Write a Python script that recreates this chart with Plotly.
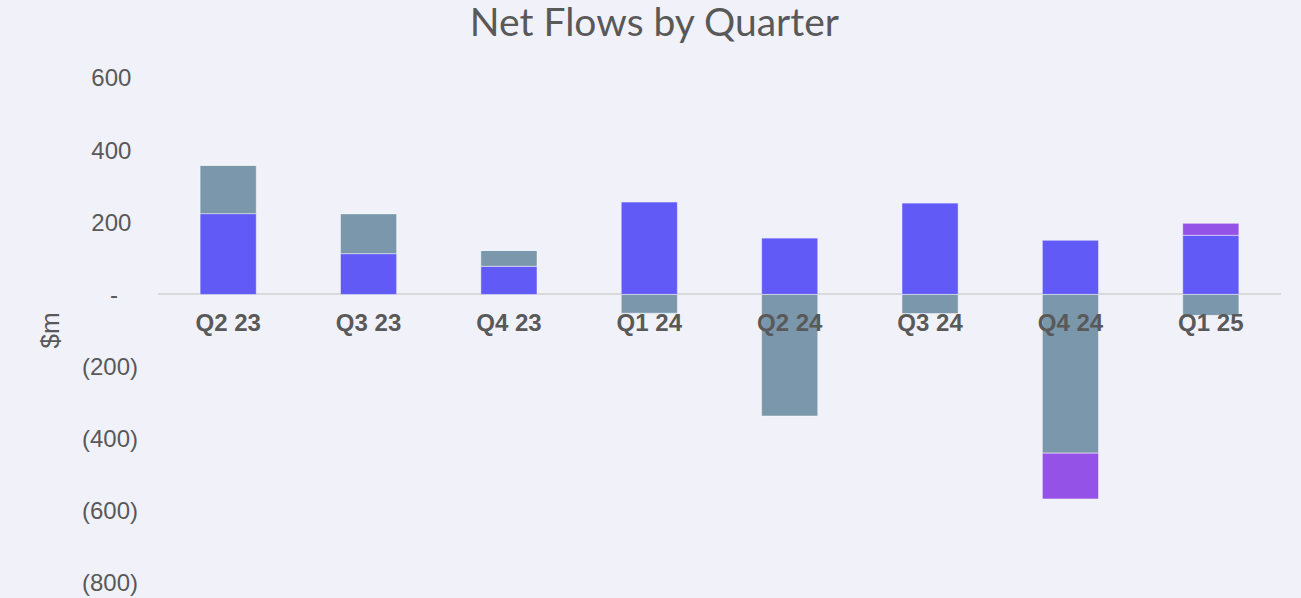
import plotly.graph_objects as go

quarters = ["Q2 23", "Q3 23", "Q4 23", "Q1 24", "Q2 24", "Q3 24", "Q4 24", "Q1 25"]
series_blue = [224, 113, 78, 257, 157, 254, 150, 164]
series_gray = [134, 111, 44, -52, -337, -53, -440, -58]
series_purple = [0, 0, 0, 0, 0, 0, -127, 33]

tick_vals = [600, 400, 200, 0, -200, -400, -600, -800]
tick_text = ["600\u00a0", "400\u00a0", "200\u00a0", "-\u00a0\u00a0\u00a0",
             "(200)", "(400)", "(600)", "(800)"]

y_min, y_max = -800, 600

line_style = dict(color="rgba(255,255,255,0.45)", width=1)

fig = go.Figure()
fig.add_trace(go.Bar(x=quarters, y=series_blue, name="Series 1",
                     marker=dict(color="#615AF7", line=line_style)))
fig.add_trace(go.Bar(x=quarters, y=series_gray, name="Series 2",
                     marker=dict(color="#7B97AB", line=line_style)))
fig.add_trace(go.Bar(x=quarters, y=series_purple, name="Series 3",
                     marker=dict(color="#9452E6", line=line_style)))

fig.update_layout(
    barmode="relative",
    bargap=0.6,
    width=1301, height=598,
    paper_bgcolor="#F1F2F9",
    plot_bgcolor="#F1F2F9",
    showlegend=False,
    margin=dict(l=158, r=20, t=78, b=15, autoexpand=False),
    title=dict(text="Net Flows by Quarter", x=0.503, xanchor="center",
               y=0.962, yanchor="middle",
               font=dict(family="Lato", size=39, color="#595959")),
    font=dict(family="Liberation Sans, Arial", color="#595959"),
)

fig.update_yaxes(
    range=[y_min, y_max],
    tickvals=tick_vals, ticktext=tick_text,
    showgrid=False,
    zeroline=True, zerolinecolor="#D9D9D9", zerolinewidth=2,
    tickfont=dict(size=24, color="#595959"),
    ticklabelstandoff=19,
    automargin=False,
    title=dict(text="$m", font=dict(size=26, color="#595959"), standoff=14),
)

fig.update_xaxes(
    anchor="free",
    position=(0 - y_min) / (y_max - y_min),
    showgrid=False, showline=False, zeroline=False,
    automargin=False,
    tickfont=dict(size=24, color="#595959", weight="bold"),
    ticklabelstandoff=12,
)

fig.write_html("out.html",
               config={"displayModeBar": False},
               post_script="document.body.style.margin='0';document.body.style.overflow='hidden';")
